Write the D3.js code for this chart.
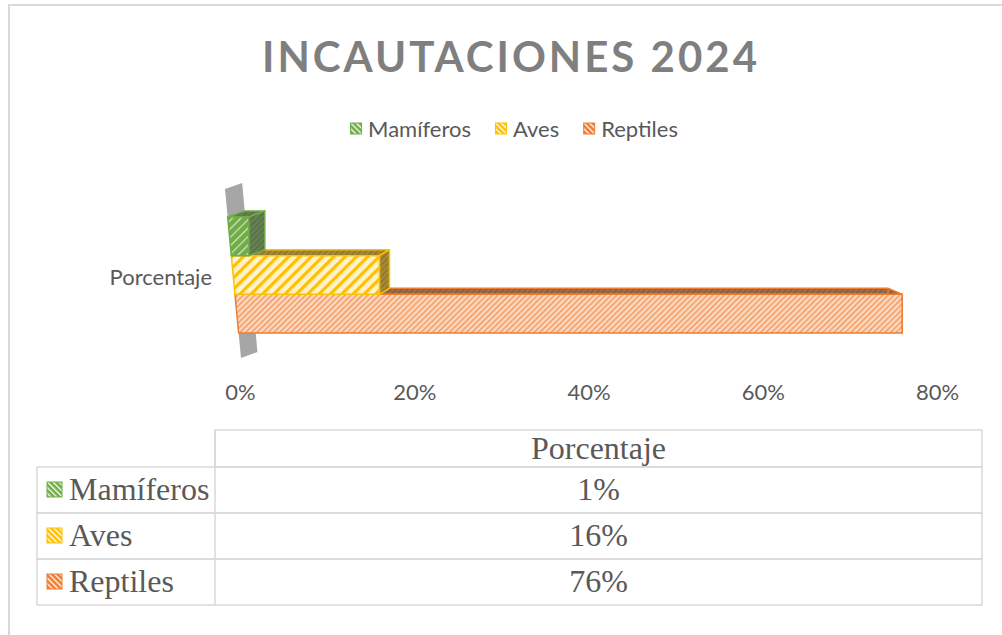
<!DOCTYPE html>
<html>
<head>
<meta charset="utf-8">
<script src="https://cdn.jsdelivr.net/npm/d3@7"></script>
<style>
  body { margin: 0; background: #fff; }
  svg { display: block; }
</style>
</head>
<body>
<div id="chart"></div>
<script>
// data
const series = ["Mamíferos", "Aves", "Reptiles"];
const category = "Porcentaje";
const values = [0.01, 0.16, 0.76];
const tickValues = [0, 0.2, 0.4, 0.6, 0.8];
const title = "INCAUTACIONES 2024";

const colors = ["#70ad47", "#ffc000", "#ed7d31"];
const pale = ["#70ad47", "#fff2c8", "#fcd9c0"];
const textColor = "#595959";
const lineColor = "#d9d9d9";
const sans = "Lato, 'Open Sans', sans-serif";

const W = 1002, H = 635;

const svg = d3.select("#chart")
    .append("svg")
    .attr("width", W)
    .attr("height", H);

const defs = svg.append("defs");

// stripe patterns
function stripes(id, bg, fg, size, sw, angle) {
    const p = defs.append("pattern")
        .attr("id", id)
        .attr("patternUnits", "userSpaceOnUse")
        .attr("width", size)
        .attr("height", size)
        .attr("patternTransform", "rotate(" + angle + ")");
    p.append("rect").attr("width", size).attr("height", size).attr("fill", bg);
    p.append("rect").attr("width", sw).attr("height", size).attr("fill", fg);
}
colors.forEach((c, i) => {
    if (i === 0) stripes("front" + i, c, "#d5e6c9", 6, 1.2, 45);
    else if (i === 1) stripes("front" + i, pale[i], c, 8, 3.2, 45);
    else stripes("front" + i, pale[i], "#f29a60", 4, 1.5, 45);
    const dark = d3.interpolateRgb(c, "#5f5f5f")(0.55);
    stripes("side" + i, dark, d3.color(dark).darker(0.5), 4, 1.5, 45);
    stripes("key" + i, c, "#ffffff", 4, 1.3, -45);
});

// outer frame
svg.append("path")
    .attr("d", "M9," + H + " V5 H" + W)
    .attr("fill", "none")
    .attr("stroke", lineColor)
    .attr("stroke-width", 2);

// title
svg.append("text")
    .attr("x", 511)
    .attr("y", 72)
    .attr("text-anchor", "middle")
    .attr("font-family", sans)
    .attr("font-weight", "bold")
    .attr("font-size", 42)
    .attr("letter-spacing", 3)
    .attr("fill", "#7f7f7f")
    .text(title);

// legend
const legend = svg.append("g").attr("font-family", sans)
    .attr("font-size", 22).attr("fill", textColor);
let lx = 0;
series.forEach((s, i) => {
    const g = legend.append("g");
    g.append("rect").attr("x", 0.5).attr("y", -6).attr("width", 11).attr("height", 11)
        .attr("fill", "url(#key" + i + ")").attr("stroke", colors[i]).attr("stroke-width", 1);
    const t = g.append("text").attr("x", 18).attr("y", 7.5).text(s);
    const w = 18 + t.node().getComputedTextLength();
    g.attr("transform", "translate(" + lx + ",0)");
    lx += w + 24;
});
const legendW = lx - 24;
legend.attr("transform", "translate(" + (514 - legendW / 2) + ",129)");

// scales
const x = d3.scaleLinear().domain([0, 0.8]).range([240, 937]);
const y = d3.scaleBand().domain(series).range([217, 333]);

// 3d helpers: skewed zero line and depth offset
const x0 = yy => x(0) + 1 + (yy - 358) * 0.0947;
const dx = xx => 27.6 - 0.0463 * xx;
const dy = -6;

// side wall at zero
const wTop = 189, wBot = 358;
svg.append("polygon")
    .attr("points", [
        [x0(wTop), wTop],
        [x0(wTop) + dx(x0(wTop)), wTop + dy],
        [x0(wBot) + dx(x0(wBot)), wBot + dy],
        [x0(wBot), wBot]
    ].join(" "))
    .attr("fill", "#a6a6a6");

// bars (bottom first so upper bars overlap)
const bars = svg.append("g");
series.map((s, i) => ({ s, v: values[i], i })).reverse().forEach(d => {
    const y0 = y(d.s), y1 = y0 + y.bandwidth();
    const xr = x(d.v);
    const g = bars.append("g")
        .attr("stroke", colors[d.i])
        .attr("stroke-width", 1.5)
        .attr("stroke-linejoin", "round");
    // top face
    g.append("polygon")
        .attr("points", [
            [x0(y0), y0], [xr, y0],
            [xr + dx(xr), y0 + dy], [x0(y0) + dx(x0(y0)), y0 + dy]
        ].join(" "))
        .attr("fill", "url(#side" + d.i + ")");
    // side face
    g.append("polygon")
        .attr("points", [
            [xr, y0], [xr + dx(xr), y0 + dy],
            [xr + dx(xr), y1 + dy], [xr, y1]
        ].join(" "))
        .attr("fill", "url(#side" + d.i + ")");
    // front face
    g.append("polygon")
        .attr("points", [
            [x0(y0), y0], [xr, y0], [xr, y1], [x0(y1), y1]
        ].join(" "))
        .attr("fill", "url(#front" + d.i + ")");
});

// category label
svg.append("text")
    .attr("x", 212)
    .attr("y", (y.range()[0] + y.range()[1]) / 2 + 10)
    .attr("text-anchor", "end")
    .attr("font-family", sans)
    .attr("font-size", 22)
    .attr("fill", textColor)
    .text(category);

// x axis labels
const axis = svg.append("g")
    .attr("transform", "translate(0,384)")
    .call(d3.axisBottom(x).tickValues(tickValues).tickFormat(d3.format(".0%")).tickSize(0).tickPadding(0));
axis.select(".domain").remove();
axis.selectAll("text")
    .attr("font-family", sans)
    .attr("font-size", 22)
    .attr("fill", textColor);

// data table
const tLeft = 37, tDiv = 215, tRight = 982, tHead = 430;
const row = d3.scaleBand().domain(series).range([467, 605]);
const table = svg.append("g")
    .attr("stroke", lineColor)
    .attr("stroke-width", 1.5)
    .attr("fill", "none");
table.append("rect")
    .attr("x", tDiv).attr("y", tHead)
    .attr("width", tRight - tDiv).attr("height", row.range()[0] - tHead);
series.forEach(s => {
    table.append("rect")
        .attr("x", tLeft).attr("y", row(s))
        .attr("width", tRight - tLeft).attr("height", row.bandwidth());
});
table.append("line")
    .attr("x1", tDiv).attr("x2", tDiv)
    .attr("y1", tHead).attr("y2", row.range()[1]);

const tText = svg.append("g")
    .attr("font-family", "'Liberation Serif', 'Times New Roman', serif")
    .attr("font-size", 32)
    .attr("fill", textColor);
const colMid = (tDiv + tRight) / 2;
tText.append("text")
    .attr("x", colMid)
    .attr("y", (tHead + row.range()[0]) / 2 + 10)
    .attr("text-anchor", "middle")
    .text(category);
series.forEach((s, i) => {
    const cy = row(s) + row.bandwidth() / 2;
    svg.append("rect")
        .attr("x", 47).attr("y", cy - 8)
        .attr("width", 15).attr("height", 15)
        .attr("fill", "url(#key" + i + ")")
        .attr("stroke", colors[i]).attr("stroke-width", 1);
    tText.append("text")
        .attr("x", 69).attr("y", cy + 10)
        .text(s);
    tText.append("text")
        .attr("x", colMid).attr("y", cy + 10)
        .attr("text-anchor", "middle")
        .text(d3.format(".0%")(values[i]));
});
</script>
</body>
</html>
